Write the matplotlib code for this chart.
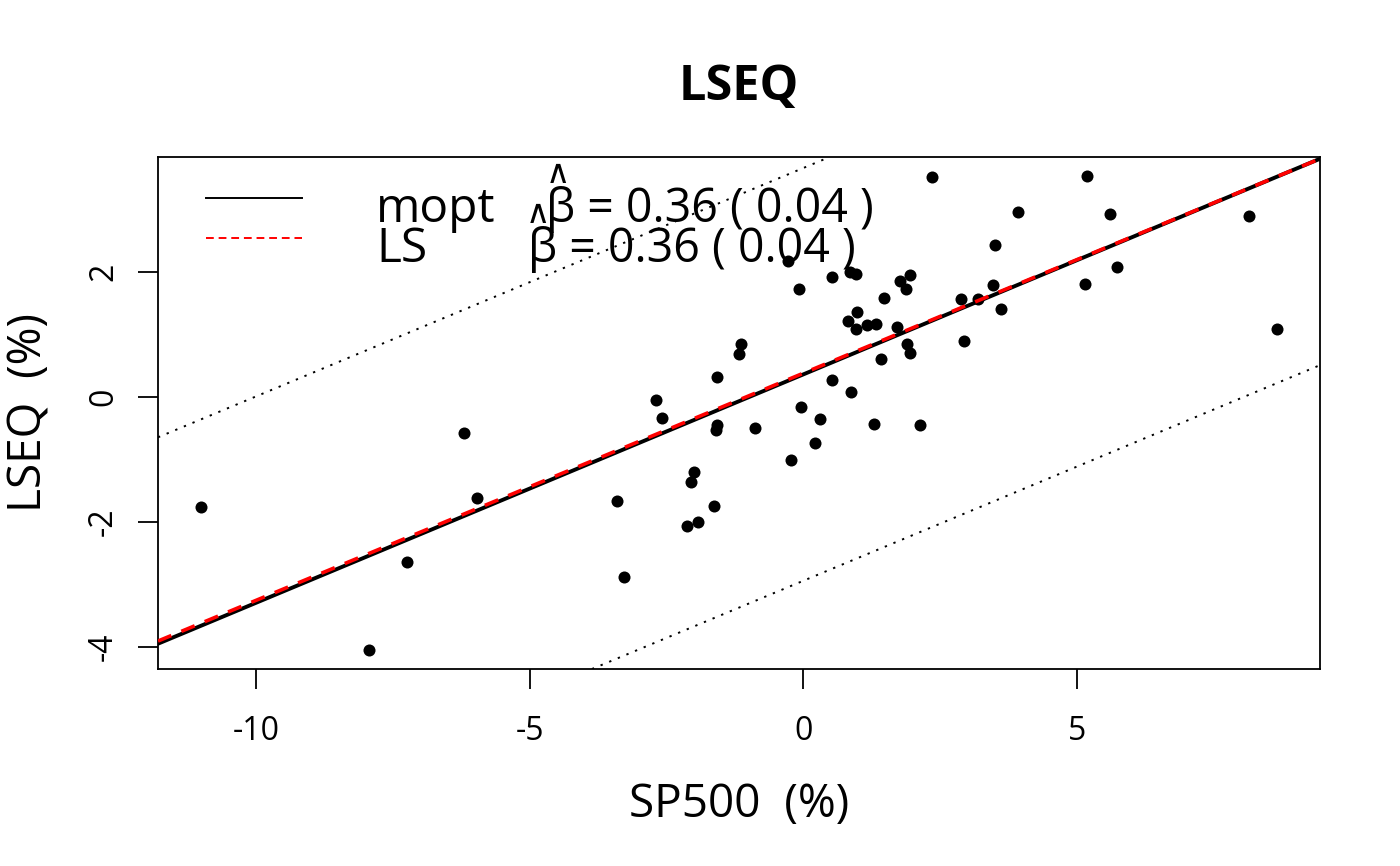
import numpy as np
import matplotlib
matplotlib.use("Agg")
import matplotlib.pyplot as plt

plt.rcParams['font.family'] = ['Open Sans', 'DejaVu Sans']
plt.rcParams['axes.unicode_minus'] = False

# monthly returns
sp500 = [-11.01, -7.94, -7.25, -6.20, -5.97, -3.41, -3.27, -2.70, -2.59, -2.12,
         -2.05, -2.00, -1.92, -1.64, -1.59, -1.58, -1.58, -1.18, -1.14, -0.89,
         -0.28, -0.23, -0.08, -0.04, 0.22, 0.30, 0.52, 0.53, 0.81, 0.86,
         0.87, 0.97, 0.97, 0.98, 1.16, 1.29, 1.33, 1.42, 1.48, 1.71,
         1.77, 1.88, 1.90, 1.95, 1.95, 2.14, 2.35, 2.88, 2.93, 3.20,
         3.46, 3.50, 3.62, 3.92, 5.15, 5.18, 5.60, 5.74, 8.15, 8.66]
lseq = [-1.77, -4.05, -2.64, -0.58, -1.62, -1.66, -2.89, -0.05, -0.34, -2.07,
        -1.37, -1.21, -2.01, -1.74, -0.53, -0.45, 0.32, 0.68, 0.85, -0.50,
        2.17, -1.01, 1.72, -0.16, -0.74, -0.35, 1.92, 0.27, 1.21, 2.00,
        0.08, 1.97, 1.09, 1.35, 1.15, -0.44, 1.16, 0.61, 1.58, 1.11,
        1.85, 1.72, 0.85, 1.94, 0.70, -0.45, 3.51, 1.56, 0.89, 1.57,
        1.78, 2.42, 1.40, 2.95, 1.81, 3.53, 2.92, 2.08, 2.89, 1.08]

# fitted lines (intercept, slope)
mopt_a, mopt_b = 0.357, 0.365
ls_a, ls_b = 0.376, 0.363
band = 3.30
beta_txt = ["\u03b2 = 0.36 ( 0.04 )", "\u03b2 = 0.36 ( 0.04 )"]

W, H = 1400, 866
fig = plt.figure(figsize=(14, 8.66), dpi=100)
ax = fig.add_axes([158 / W, 1 - 669 / H, 1162 / W, 512 / H])

ax.scatter(sp500, lseq, s=75, color='black', linewidths=0, zorder=3)

ax.axline((0, mopt_a + band), slope=mopt_b, color='black', lw=1.4,
          dashes=(1.2, 3.6), zorder=2)
ax.axline((0, mopt_a - band), slope=mopt_b, color='black', lw=1.4,
          dashes=(1.2, 3.6), zorder=2)
ax.axline((0, mopt_a), slope=mopt_b, color='black', lw=2.8, zorder=4)
ax.axline((0, ls_a), slope=ls_b, color='red', lw=2.6, dashes=(4, 3), zorder=5)

# R style limits: data range plus 4 %
x = np.array(sp500)
y = np.array(lseq)
dx = (x.max() - x.min()) * 0.04
dy = (y.max() - y.min()) * 0.04
ax.set_xlim(x.min() - dx, x.max() + dx)
ax.set_ylim(y.min() - dy, y.max() + dy)

ax.set_xticks([-10, -5, 0, 5])
ax.set_yticks([-4, -2, 0, 2])
ax.tick_params(length=14.4, width=1.3, labelsize=23, pad=19)
ax.tick_params(axis='y', pad=13)
for lbl in ax.get_yticklabels():
    lbl.set_rotation(90)
    lbl.set_va('center')
for s in ax.spines.values():
    s.set_linewidth(1.3)

# legend drawn by hand
def fx(px):
    return (px - 158) / 1162

def fy(py):
    return (669 - py) / 512

ax.plot([fx(206), fx(302)], [fy(197.7), fy(197.7)], transform=ax.transAxes,
        color='black', lw=1.4, clip_on=False)
ax.plot([fx(206), fx(302)], [fy(237.7), fy(237.7)], transform=ax.transAxes,
        color='red', lw=1.4, dashes=(4, 2.5), clip_on=False)
ax.text(fx(376), fy(222), "mopt", transform=ax.transAxes, fontsize=34.5,
        va='baseline', ha='left')
ax.text(fx(376), fy(261.7), "LS", transform=ax.transAxes, fontsize=34.5,
        va='baseline', ha='left')
ax.text(fx(546), fy(221.7), beta_txt[0], transform=ax.transAxes, fontsize=33.5,
        va='baseline', ha='left')
ax.text(fx(528), fy(261.7), beta_txt[1], transform=ax.transAxes, fontsize=33.5,
        va='baseline', ha='left')
ax.text(fx(557.5), fy(183), "\u2227", transform=ax.transAxes, fontsize=24,
        va='baseline', ha='center', family='DejaVu Sans')
ax.text(fx(537.5), fy(223), "\u2227", transform=ax.transAxes, fontsize=24,
        va='baseline', ha='center', family='DejaVu Sans')

fig.text(739 / W, 1 - 100 / H, "LSEQ", fontsize=35, fontweight='bold',
         ha='center', va='baseline')
fig.text(739 / W, 1 - 816.7 / H, "SP500  (%)", fontsize=33,
         ha='center', va='baseline')
fig.text(42 / W, 1 - 413 / H, "LSEQ  (%)", fontsize=33, rotation=90,
         rotation_mode='anchor', ha='center', va='baseline')

fig.savefig("out.png", dpi=100)
